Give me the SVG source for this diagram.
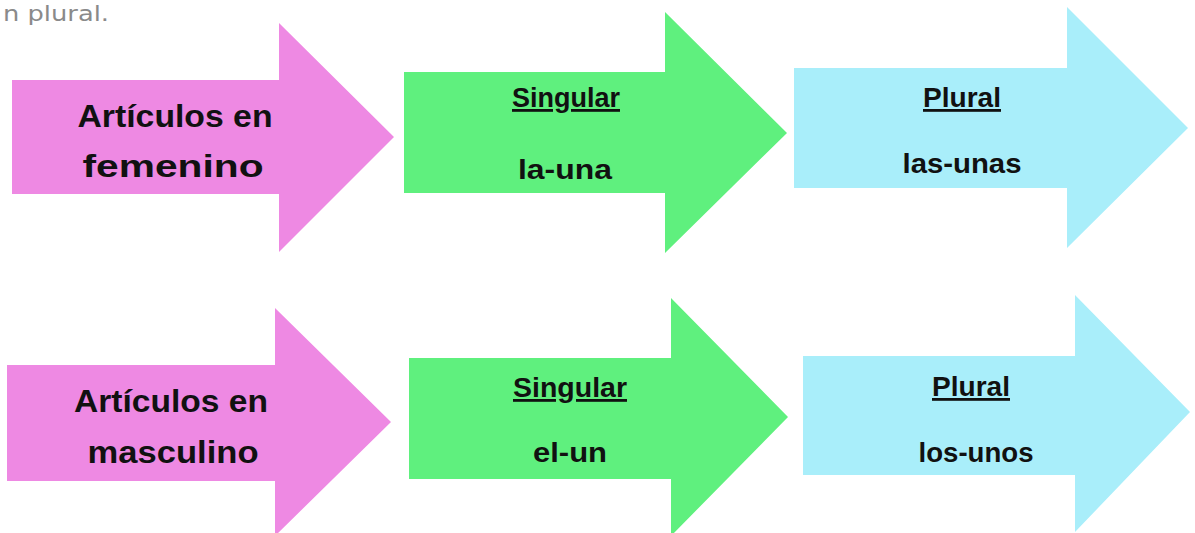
<svg xmlns="http://www.w3.org/2000/svg" width="1195" height="533" viewBox="0 0 1195 533">
<style>
.pink{fill:#EE89E3}
.green{fill:#5FF07E}
.cyan{fill:#A9EEFA}
.lbl{font-family:"Liberation Sans",Arial,sans-serif;font-weight:bold;fill:#111;text-anchor:middle}
.big{font-size:32px}
.mid{font-size:28px}
.u{text-decoration:underline}
.cap{font-family:"DejaVu Sans","Liberation Sans",sans-serif;font-size:22px;fill:#8a8a8a}
</style>
<rect width="1195" height="533" fill="#ffffff"/>
<text class="cap" x="3" y="21" textLength="106" lengthAdjust="spacingAndGlyphs">n plural.</text>
<g id="connectors"></g>
<g id="fem-label">
<polygon class="pink" points="12,80 279,80 279,23 394,137 279,252 279,194 12,194"/>
<text class="lbl big" x="175" y="127" textLength="195" lengthAdjust="spacingAndGlyphs">Artículos en</text>
<text class="lbl big" x="173" y="177" textLength="181" lengthAdjust="spacingAndGlyphs">femenino</text>
</g>
<g id="fem-singular">
<polygon class="green" points="404,72 665,72 665,12 787,133 665,253 665,193 404,193"/>
<text class="lbl mid u" x="566" y="107" textLength="108" lengthAdjust="spacingAndGlyphs">Singular</text>
<text class="lbl mid" x="565" y="179" textLength="94" lengthAdjust="spacingAndGlyphs">la-una</text>
</g>
<g id="fem-plural">
<polygon class="cyan" points="794,68 1067,68 1067,7 1188,128 1067,248 1067,188 794,188"/>
<text class="lbl mid u" x="962" y="107" textLength="78" lengthAdjust="spacingAndGlyphs">Plural</text>
<text class="lbl mid" x="962" y="173" textLength="119" lengthAdjust="spacingAndGlyphs">las-unas</text>
</g>
<g id="masc-label">
<polygon class="pink" points="7,365 275,365 275,308 391,422 275,536 275,481 7,481"/>
<text class="lbl big" x="171" y="412" textLength="194" lengthAdjust="spacingAndGlyphs">Artículos en</text>
<text class="lbl big" x="173" y="463" textLength="171" lengthAdjust="spacingAndGlyphs">masculino</text>
</g>
<g id="masc-singular">
<polygon class="green" points="409,358 671,358 671,298 788,417 671,536 671,479 409,479"/>
<text class="lbl mid u" x="570" y="397" textLength="114" lengthAdjust="spacingAndGlyphs">Singular</text>
<text class="lbl mid" x="570" y="462" textLength="74" lengthAdjust="spacingAndGlyphs">el-un</text>
</g>
<g id="masc-plural">
<polygon class="cyan" points="803,356 1075,356 1075,295 1190,412 1075,532 1075,475 803,475"/>
<text class="lbl mid u" x="971" y="396" textLength="78" lengthAdjust="spacingAndGlyphs">Plural</text>
<text class="lbl mid" x="976" y="462" textLength="115" lengthAdjust="spacingAndGlyphs">los-unos</text>
</g>
</svg>
